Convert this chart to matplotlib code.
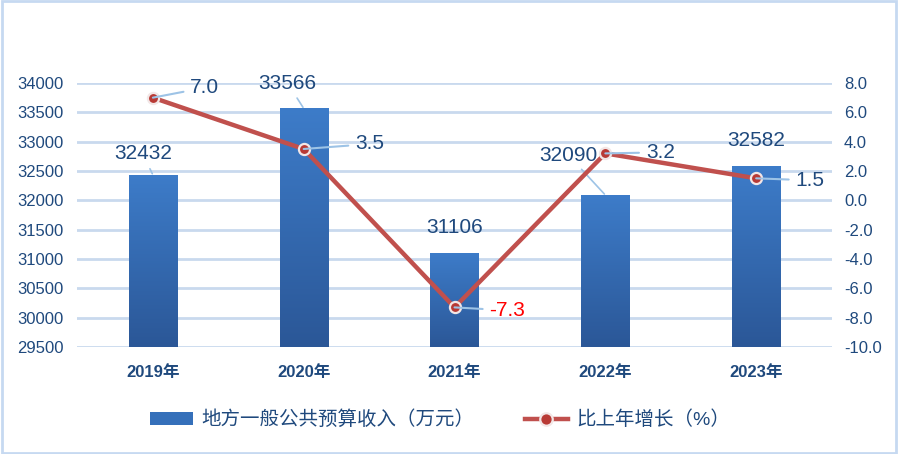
import numpy as np
import matplotlib
matplotlib.use("Agg")
import matplotlib.pyplot as plt
from matplotlib.patches import Rectangle, Patch
from matplotlib.lines import Line2D

plt.rcParams["font.family"] = ["Liberation Sans", "Noto Sans CJK SC"]

years = ["2019年", "2020年", "2021年", "2022年", "2023年"]
revenue = [32432, 33566, 31106, 32090, 32582]
growth = [7.0, 3.5, -7.3, 3.2, 1.5]
left_ticks = list(range(29500, 34001, 500))
right_ticks = [-10, -8, -6, -4, -2, 0, 2, 4, 6, 8]

NAVY = "#1F497D"
GRID = "#C9D9EE"
LEADER = "#9DC3E6"
LINE = "#C0504D"

fig = plt.figure(figsize=(8.98, 4.54), dpi=100)
ax = fig.add_axes([0.0863, 0.2357, 0.8397, 0.5815])
ax2 = ax.twinx()

x = np.arange(len(years))
w = 0.32

# gradient bars
grad = np.linspace(0, 1, 256).reshape(-1, 1)
cmap = matplotlib.colors.LinearSegmentedColormap.from_list("bar", ["#2B5797", "#3D7CC9"])
for xi, v in zip(x, revenue):
    rect = Rectangle((xi - w / 2, 29500), w, v - 29500, facecolor="none", edgecolor="none")
    ax.add_patch(rect)
    im = ax.imshow(grad, extent=(xi - w / 2, xi + w / 2, 29500, v), origin="lower",
                   cmap=cmap, aspect="auto", zorder=2)
    im.set_clip_path(rect)
ax.set_xlim(-0.5, len(years) - 0.5)
ax.set_ylim(29500, 34000)
ax2.set_ylim(-10, 8)

ax.set_yticks(left_ticks)
ax.set_yticklabels([str(t) for t in left_ticks])
ax2.set_yticks(right_ticks)
ax2.set_yticklabels([f"{t:.1f}" for t in right_ticks])
ax.set_xticks(x)
ax.set_xticklabels(years, fontweight="bold", fontsize=12, color=NAVY)
ax.grid(axis="y", color=GRID, linewidth=2, zorder=0)
ax.set_axisbelow(True)
for a in (ax, ax2):
    for s in a.spines.values():
        s.set_visible(False)
    a.tick_params(length=0, labelsize=12, labelcolor=NAVY)
ax.tick_params(axis="y", pad=10)
ax2.tick_params(axis="y", pad=9)
ax.tick_params(axis="x", pad=13)

ax2.plot(x, growth, color=LINE, linewidth=3.2, marker="o", markersize=8,
         markerfacecolor="#B83A35", markeredgecolor="#F2E6E6", markeredgewidth=1.6, zorder=5)

# label offsets in pixels from the data point; leader only where the label was moved
bar_off = [(-10, 21), (-16, 25), (0, 25), (-37, 40), (0, 26)]
bar_leader = [True, True, False, True, False]
for xi, v, off, lead in zip(x, revenue, bar_off, bar_leader):
    arrow = dict(arrowstyle="-", color=LEADER, lw=1.2, shrinkA=2, shrinkB=1) if lead else None
    ax.annotate(str(v), (xi, v), xytext=off, textcoords="offset pixels",
                ha="center", va="center", fontsize=15, color=NAVY,
                arrowprops=arrow, annotation_clip=False, zorder=6)

line_off = [(52, 10), (66, 5), (53, -3), (55, 1), (54, -2)]
for xi, g, off in zip(x, growth, line_off):
    ax2.annotate(f"{g:.1f}", (xi, g), xytext=off, textcoords="offset pixels",
                 ha="center", va="center", fontsize=15,
                 color="#FF0000" if g < 0 else NAVY,
                 arrowprops=dict(arrowstyle="-", color=LEADER, lw=1.5, shrinkA=3, shrinkB=0),
                 annotation_clip=False, zorder=6)

handles = [Patch(facecolor="#3570BA", edgecolor="none"),
           Line2D([0], [0], color=LINE, linewidth=3.2, marker="o", markersize=9,
                  markerfacecolor="#B83A35", markeredgecolor="#F2E6E6", markeredgewidth=1.6)]
fig.legend(handles, ["地方一般公共预算收入（万元）", "比上年增长（%）"], loc="center",
           bbox_to_anchor=(0.49, 0.075), ncol=2, frameon=False, fontsize=14,
           labelcolor=NAVY, handlelength=2.2, handleheight=0.6, columnspacing=2.6,
           handletextpad=0.45)

fig.patches.append(Rectangle((0.002, 0.003), 0.996, 0.994, transform=fig.transFigure,
                             fill=False, edgecolor="#C6D9F1", linewidth=2))

fig.savefig("out.png", dpi=100)
